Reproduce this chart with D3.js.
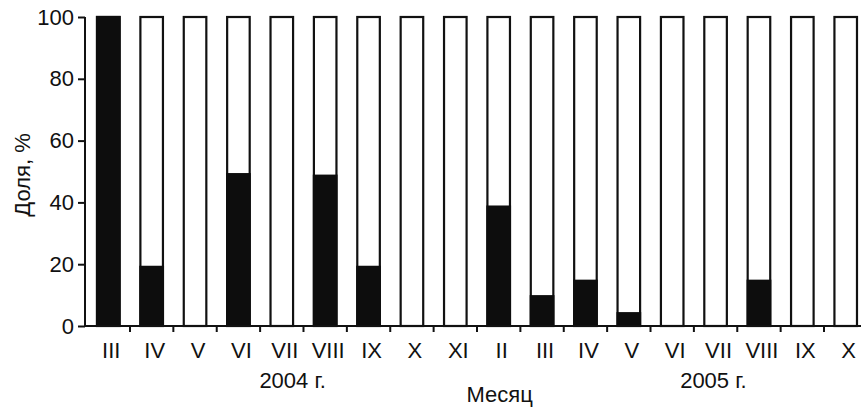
<!DOCTYPE html>
<html>
<head>
<meta charset="utf-8">
<script src="https://cdn.jsdelivr.net/npm/d3@7"></script>
<style>
  html, body { margin: 0; padding: 0; background: #fff; }
  svg { display: block; }
  text { font-family: "Liberation Sans", Arial, sans-serif; fill: #111; }
</style>
</head>
<body>
<svg id="chart" width="861" height="407"></svg>
<script>
const months = ["III","IV","V","VI","VII","VIII","IX","X","XI","II","III","IV","V","VI","VII","VIII","IX","X"];
const shareBlack = [100, 19.5, 0, 49.5, 0, 49, 19.5, 0, 0, 39, 10, 15, 4.5, 0, 0, 15, 0, 0];
const totalShare = 100;
const yTicks = [0, 20, 40, 60, 80, 100];
const yearLabels = ["2004 г.", "2005 г."];
const yearCenterIndex = [4.25, 13.95];
const yTitle = "Доля, %";
const xTitle = "Месяц";

(function () {
const svg = d3.select("#chart");
const plotLeft = 86.6, plotRight = 867.4, plotTop = 17, plotBottom = 326;
const fs = 22;

const idx = months.map((d, i) => i);
const x = d3.scaleBand().domain(idx).range([plotLeft, plotRight]).paddingInner(0.48).paddingOuter(0.24);
const y = d3.scaleLinear().domain([0, 100]).range([plotBottom, plotTop]);
const step = x.step();

const g = svg.append("g");
g.selectAll("rect.total").data(idx).join("rect")
  .attr("class", "total")
  .attr("x", i => x(i))
  .attr("width", x.bandwidth())
  .attr("y", y(totalShare))
  .attr("height", y(0) - y(totalShare))
  .attr("fill", "#fff")
  .attr("stroke", "#111")
  .attr("stroke-width", 2.2);

g.selectAll("rect.black").data(idx).join("rect")
  .attr("class", "black")
  .attr("x", i => x(i) - 1.1)
  .attr("width", x.bandwidth() + 2.2)
  .attr("y", i => y(shareBlack[i]) - (shareBlack[i] === 100 ? 1.1 : 0))
  .attr("height", i => y(0) - y(shareBlack[i]) + (shareBlack[i] === 100 ? 1.1 : 0))
  .attr("fill", "#0d0d0d");

const yAxis = d3.axisLeft(y).tickValues(yTicks).tickSize(7).tickSizeOuter(0).tickPadding(4);
const ya = svg.append("g").attr("transform", `translate(${85},0)`).call(yAxis);
ya.select(".domain").attr("stroke", "#111").attr("stroke-width", 2).attr("d", `M0,${y(100)}V${plotBottom}`);
ya.selectAll(".tick line").attr("stroke", "#111").attr("stroke-width", 2);
ya.selectAll(".tick text").attr("font-size", fs).attr("font-family", "Liberation Sans, Arial, sans-serif").attr("fill", "#111");

svg.append("line").attr("x1", 84).attr("x2", 861).attr("y1", plotBottom).attr("y2", plotBottom)
  .attr("stroke", "#111").attr("stroke-width", 2);

const boundaries = idx.slice(1).map(i => x(i) - (step - x.bandwidth()) / 2);
svg.selectAll("line.xt").data(boundaries).join("line")
  .attr("class", "xt")
  .attr("x1", d => d).attr("x2", d => d)
  .attr("y1", plotBottom).attr("y2", plotBottom + 6)
  .attr("stroke", "#111").attr("stroke-width", 2);

svg.selectAll("text.m").data(idx).join("text")
  .attr("class", "m")
  .attr("x", i => x(i) + x.bandwidth() / 2 + 3)
  .attr("y", 358)
  .attr("text-anchor", "middle")
  .attr("font-size", fs)
  .text(i => months[i]);

svg.selectAll("text.yr").data(yearLabels).join("text")
  .attr("class", "yr")
  .attr("x", (d, k) => x(0) + step * yearCenterIndex[k] + x.bandwidth() / 2)
  .attr("y", 388)
  .attr("text-anchor", "middle")
  .attr("font-size", fs)
  .text(d => d);

svg.append("text")
  .attr("x", x(9) + x.bandwidth() / 2 + 1)
  .attr("y", 402)
  .attr("text-anchor", "middle")
  .attr("font-size", fs)
  .text(xTitle);

svg.append("text")
  .attr("transform", `translate(30,175) rotate(-90)`)
  .attr("text-anchor", "middle")
  .attr("font-size", fs)
  .text(yTitle);
})();
</script>
</body>
</html>
